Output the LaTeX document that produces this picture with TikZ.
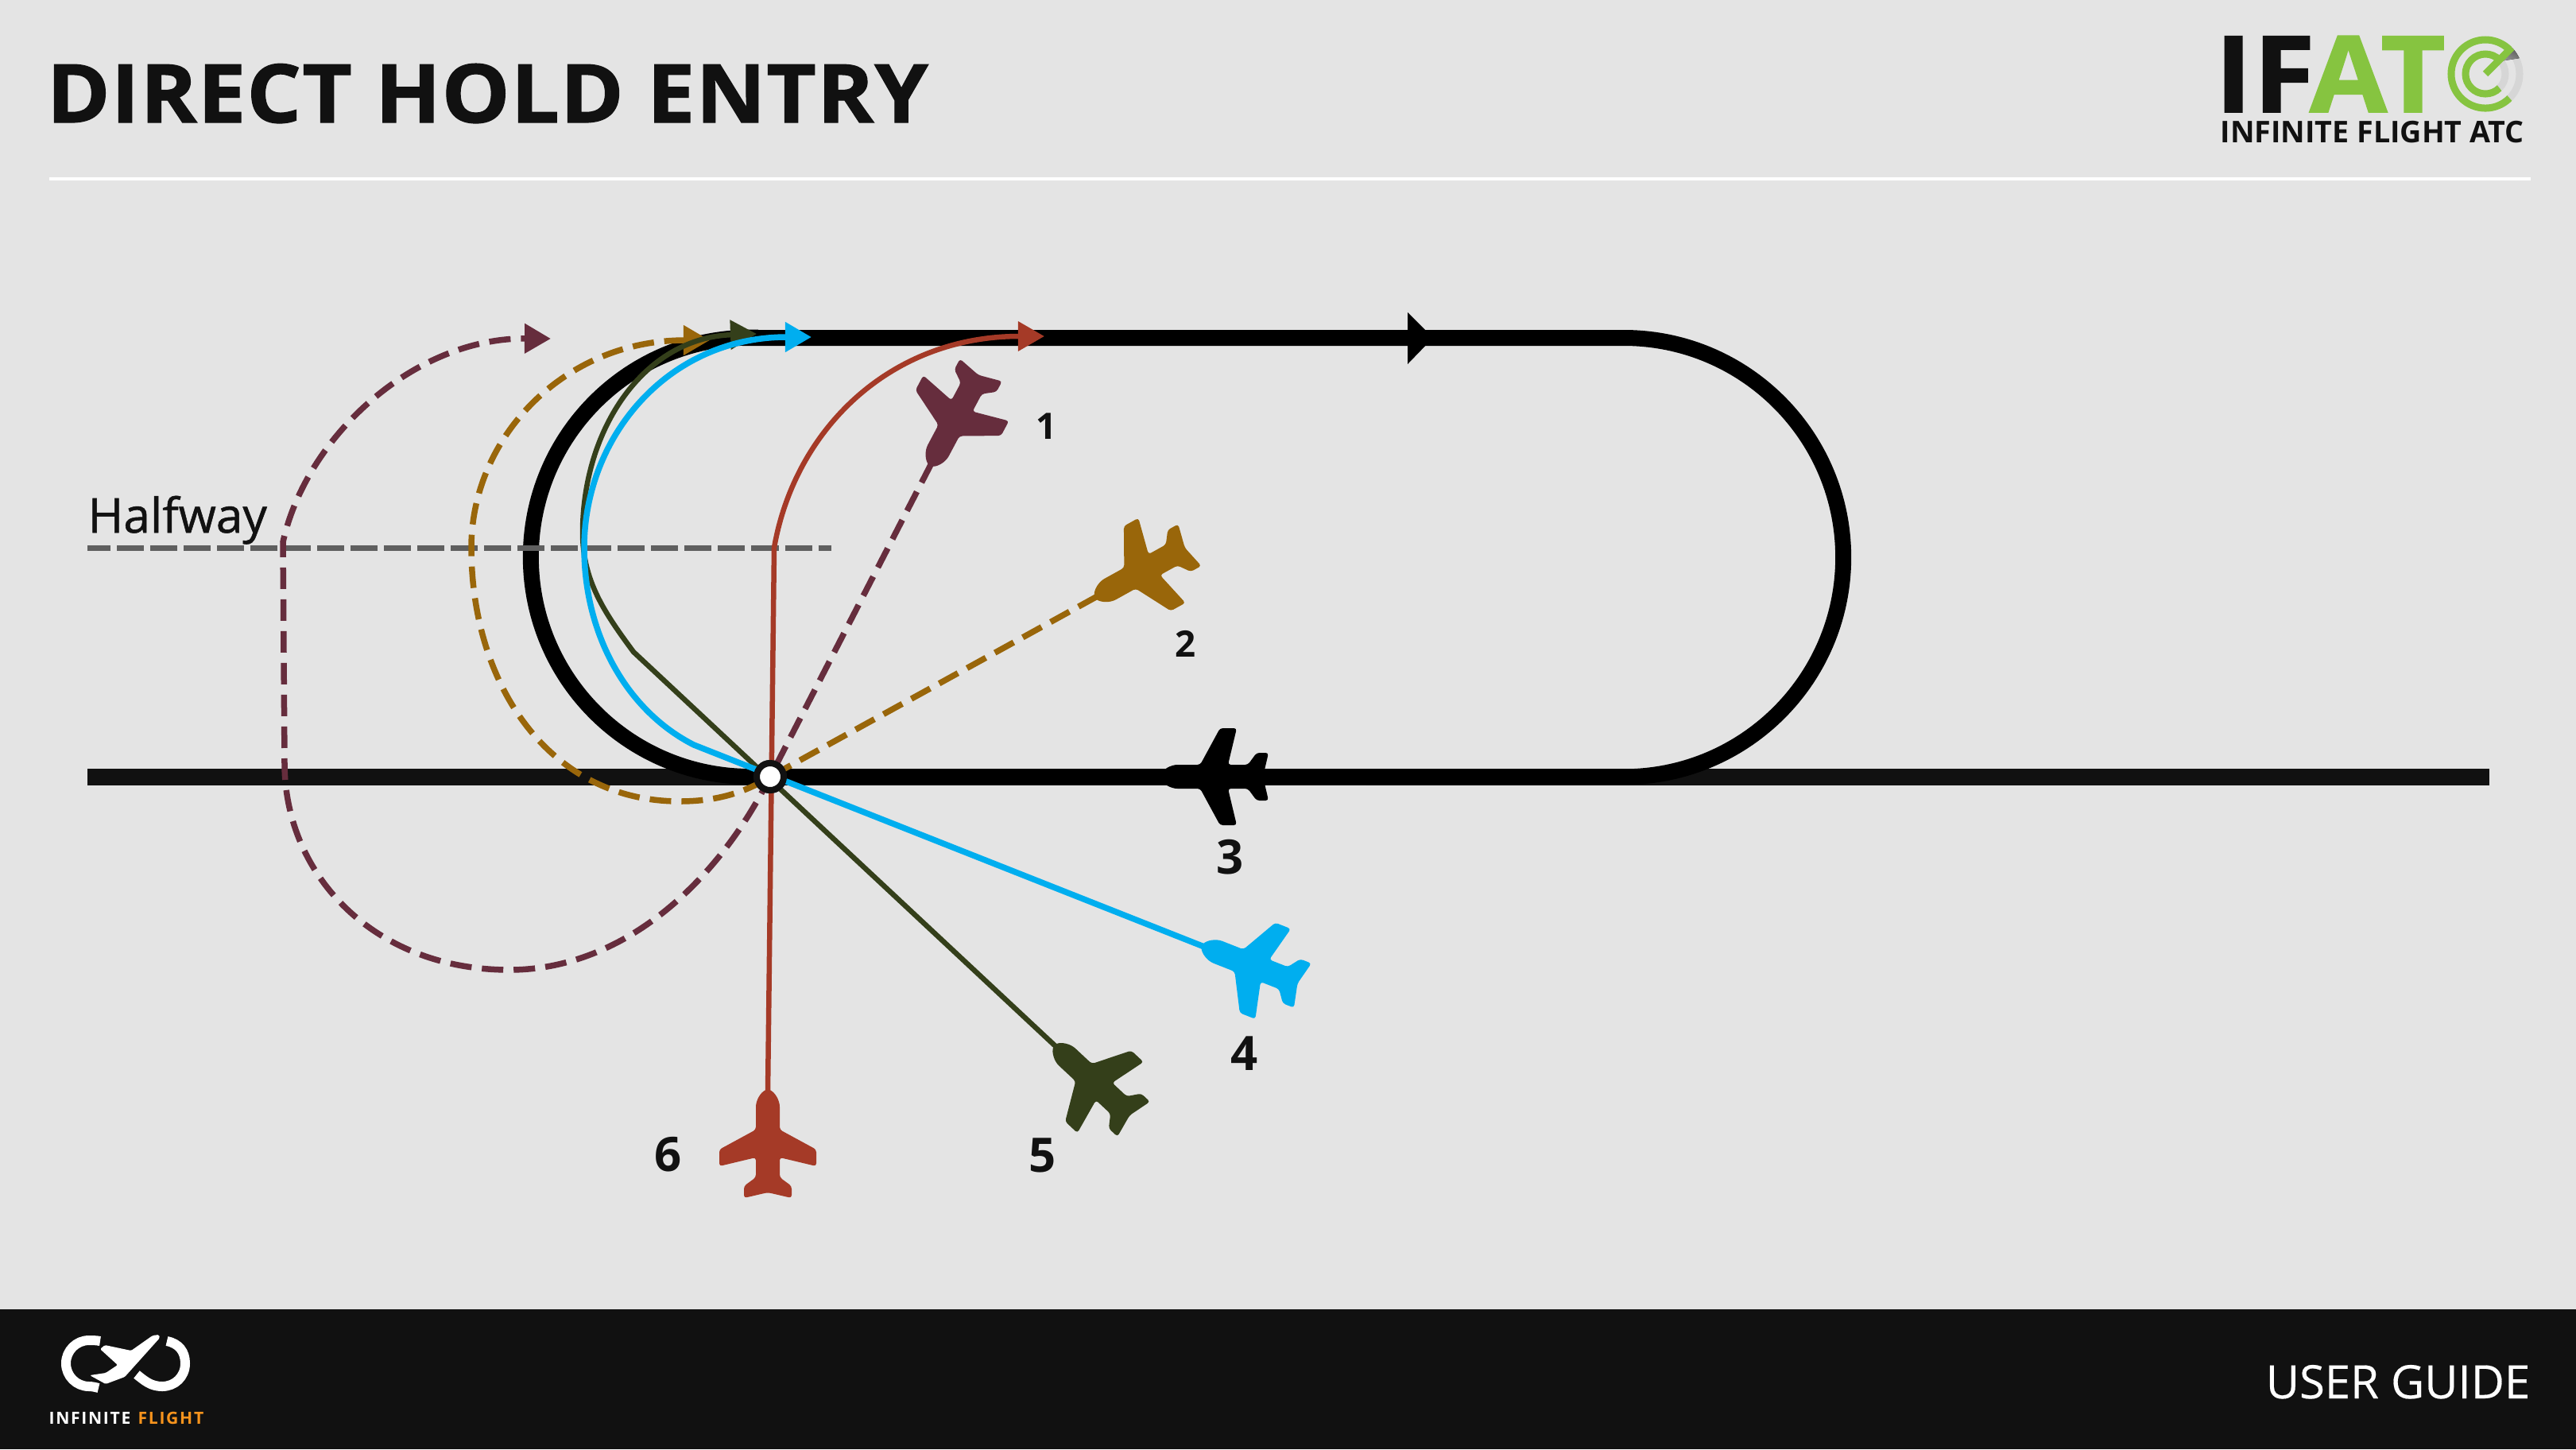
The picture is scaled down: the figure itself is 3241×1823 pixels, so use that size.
\documentclass[tikz,border=0pt]{standalone}
\usepackage{fontspec}
\setmainfont{Open Sans}
\newfontfamily\heavyfont[BoldFeatures={FakeBold=1.2,FakeStretch=1.06,LetterSpace=1}]{Open Sans}
\newfontfamily\logofont[LetterSpace=8]{Open Sans}
\usetikzlibrary{arrows.meta, calc}
\definecolor{paper}{HTML}{E4E4E4}
\definecolor{ink}{HTML}{111111}
\definecolor{ifgreen}{HTML}{86C440}
\definecolor{iforange}{HTML}{F7941D}
\definecolor{planemaroon}{HTML}{662D3D}
\definecolor{planebrown}{HTML}{99660A}
\definecolor{planered}{HTML}{A53A27}
\definecolor{planeolive}{HTML}{343F1A}
\definecolor{planeblue}{HTML}{00AEEF}
\definecolor{halfgrey}{HTML}{5F5F5F}

\tikzset{
    plane/.pic={
        \fill[#1, rounded corners=0.035cm] (0,-64) .. controls (9,-60) and (15,-50) .. (15,-38)
            -- (15,-13) -- (61,12) -- (61,33) -- (15,22) -- (15,47) -- (30,58) -- (30,73)
            -- (0,66) -- (-30,73) -- (-30,58) -- (-15,47) -- (-15,22) -- (-61,33) -- (-61,12)
            -- (-15,-13) -- (-15,-38) .. controls (-15,-50) and (-9,-60) .. (0,-64) -- cycle;
        \coordinate (-nose) at (0,-60);
    }
}

\begin{document}
\begin{tikzpicture}[
    x=0.01cm, y=-0.01cm,
    track/.style={line width=0.2cm, black},
    route/.style={line width=0.065cm, -{Triangle[length=0.33cm, width=0.36cm]}},
    dashroute/.style={route, line width=0.075cm, dash pattern=on 0.27cm off 0.13cm},
    hubmark/.style={circle, draw=ink, fill=white, line width=0.08cm, minimum size=0.34cm, inner sep=0pt},
    num/.style={font=\fontsize{13}{13}\selectfont\bfseries, text=ink, inner sep=0pt},
    numbig/.style={font=\fontsize{17}{17}\selectfont\bfseries, text=ink, inner sep=0pt},
    logoring/.style={white, line width=0.12cm},
    radar/.style={line width=0.09cm, ifgreen}
]
\useasboundingbox (0,0) rectangle (3241,1823);
\fill[paper] (0,0) rectangle (3241,1823);

\node[anchor=base west, inner sep=0pt, text=ink, font=\heavyfont\bfseries\fontsize{29}{29}\selectfont] (title) at (58,154) {DIRECT HOLD ENTRY};
\draw[white, line width=0.04cm] (62,225) -- (3184,225);

\node[anchor=base west, inner sep=0pt, text=ink, font=\heavyfont\bfseries\fontsize{38}{38}\selectfont] (logoif) at (2786,141) {IF};
\node[anchor=base west, inner sep=0pt, text=ifgreen, font=\heavyfont\bfseries\fontsize{38}{38}\selectfont] (logoat) at (2905,141) {AT};
\node[anchor=base west, inner sep=0pt, text=ink, font=\fontsize{10.7}{10.7}\selectfont\bfseries] (logoname) at (2793,179) {INFINITE FLIGHT ATC};
\coordinate (radarmid) at (3127,93);
\draw[line width=0.09cm, black!6!paper] (radarmid) ++(-45:43) arc[start angle=45, end angle=-45, radius=0.43cm];
\draw[line width=0.09cm, black!6!paper] (radarmid) ++(-45:25) arc[start angle=45, end angle=-45, radius=0.25cm];
\fill[top color=black!60, bottom color=black!6!paper, shading angle=-30] (radarmid) ++(-45:47) arc[start angle=45, end angle=25, radius=0.47cm] -- ($(radarmid)+(-45:22)$) -- cycle;
\draw[radar] (radarmid) ++(-45:43) arc[start angle=45, end angle=315, radius=0.43cm];
\draw[radar] (radarmid) ++(-45:25) arc[start angle=45, end angle=315, radius=0.25cm];
\draw[radar] (radarmid) -- ++(-45:47);

\draw[ink, line width=0.21cm] (110,977) -- (3132,977);
\draw[track] (944,425) -- (2043,425) arc[start angle=90, end angle=-90, radius=2.76cm] -- (944,977) arc[start angle=-90, end angle=-270, radius=2.76cm] -- cycle;
\fill[black] (1771,393) -- (1803,425) -- (1771,458) -- cycle;
\pic[rotate=90] (three) at (1523,977) {plane=black};

\node[anchor=base west, inner sep=0pt, text=ink, font=\fontsize{17.2}{17.2}\selectfont] (halfway) at (110,670) {\addfontfeature{FakeBold=0.9}Halfway};
\coordinate (halfwayend) at (1046,689);
\draw[halfgrey, line width=0.07cm, dash pattern=on 0.34cm off 0.08cm, dash phase=0.05cm] (110,689) -- (halfwayend);

\node[hubmark] (hub) at (969,977) {};

\pic[rotate=152] (one) at (1200,530) {plane=planemaroon};
\pic[rotate=119] (two) at (1433,721) {plane=planebrown};
\pic[rotate=68.5] (four) at (1571,1213) {plane=planeblue};
\pic[rotate=47] (five) at (1373,1358) {plane=planeolive};
\pic (six) at (966,1434) {plane=planered};

\coordinate (endone) at (693,426);
\coordinate (endtwo) at (893,428);
\coordinate (endfour) at (1021,424);
\coordinate (endfive) at (952,420);
\coordinate (endsix) at (1314,423);

\draw[dashroute, planemaroon] (one-nose) -- (hub.center) .. controls (900,1115) and (780,1220) .. (641,1220) .. controls (470,1220) and (358,1100) .. (358,960) -- (356,682) .. controls (385,550) and (520,425) .. (endone);
\draw[dashroute, planebrown] (two-nose) -- (hub.center) .. controls (930,1002) and (890,1008) .. (855,1008) .. controls (690,1008) and (593,860) .. (593,689) .. controls (593,550) and (710,428) .. (endtwo);
\draw[route, planered] (six-nose) -- (974,689) .. controls (1000,540) and (1120,423) .. (endsix);
\draw[route, planeolive] (five-nose) -- (797,820) .. controls (760,770) and (733,730) .. (733,670) .. controls (733,540) and (810,425) .. (endfive);
\draw[route, planeblue, line width=0.075cm] (four-nose) -- (873,937) .. controls (790,895) and (735,800) .. (735,689) .. controls (735,550) and (840,424) .. (endfour);
\node[hubmark] at (hub) {};

\node[num] (labelone) at (1317,536) {1};
\node[num] (labeltwo) at (1492,810) {2};
\node[numbig] (labelthree) at (1548,1078) {3};
\node[numbig] (labelfour) at (1566,1325) {4};
\node[numbig] (labelfive) at (1312,1453) {5};
\node[numbig] (labelsix) at (841,1452) {6};

\fill[ink] (0,1647) rectangle (3241,1823);
\node[anchor=base east, inner sep=0pt, text=white, font=\fontsize{16.5}{16.5}\selectfont] (guide) at (3184,1759) {\addfontfeature{FakeBold=0.3}USER GUIDE};

\draw[logoring] (126,1687) .. controls (121,1686) and (116,1686) .. (112,1686) .. controls (96,1686) and (83,1699) .. (83,1715) .. controls (83,1731) and (96,1744) .. (112,1744) .. controls (116,1744) and (120,1745) .. (124,1746);
\draw[logoring] (210,1687) .. controls (225,1690) and (233,1700) .. (233,1715) .. controls (233,1732) and (220,1744) .. (204,1744) .. controls (190,1744) and (182,1737) .. (172,1729);
\fill[white, rounded corners=0.015cm] (200,1679) -- (201,1683) -- (157,1732) -- (133,1741) -- (113,1730) -- (133,1727) -- (148,1717) -- (126,1697) -- (132,1692) -- (165,1699) -- (192,1680) -- cycle;
\node[anchor=base west, inner sep=0pt, font=\logofont\fontsize{6}{6}\selectfont\bfseries, text=white] (brandleft) at (61,1791) {INFINITE};
\node[anchor=base west, inner sep=0pt, font=\logofont\fontsize{6}{6}\selectfont\bfseries, text=iforange] (brandright) at (173,1791) {FLIGHT};
\end{tikzpicture}
\end{document}
